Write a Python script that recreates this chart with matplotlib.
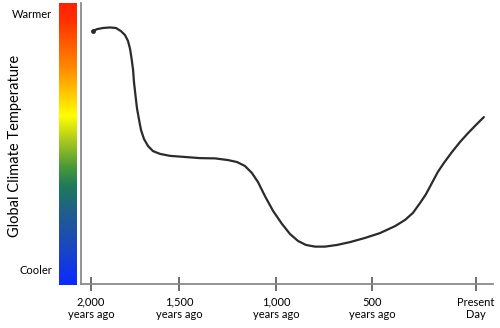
import numpy as np
import matplotlib
matplotlib.use("Agg")
import matplotlib.pyplot as plt
from matplotlib.colors import LinearSegmentedColormap

plt.rcParams['font.family'] = ['Lato', 'DejaVu Sans']

# curve: years ago vs relative temperature (0 = cooler, 1 = warmer)
years_ago = [1989, 1966, 1932, 1892, 1858, 1830, 1807, 1790, 1778, 1770, 1761, 1756, 1747,
             1739, 1727, 1716, 1699, 1676, 1648, 1608, 1551, 1469, 1392, 1314, 1247, 1201,
             1160, 1124, 1093, 1057, 1015, 969, 927, 885, 844, 797, 745, 682, 615, 536,
             462, 389, 341, 303, 269, 240, 212, 183, 154, 115, 77, 38, 0, -38]
temperature = [0.900, 0.907, 0.911, 0.913, 0.911, 0.900, 0.886, 0.865, 0.836, 0.804, 0.762,
               0.719, 0.669, 0.626, 0.584, 0.548, 0.516, 0.491, 0.473, 0.463, 0.456, 0.452,
               0.448, 0.447, 0.441, 0.434, 0.420, 0.395, 0.363, 0.313, 0.260, 0.214, 0.178,
               0.153, 0.139, 0.133, 0.133, 0.139, 0.149, 0.164, 0.181, 0.206, 0.228, 0.253,
               0.288, 0.320, 0.359, 0.399, 0.431, 0.470, 0.505, 0.537, 0.566, 0.594]

tick_years = [2000, 1500, 1000, 500, 0]
tick_labels = ["2,000\nyears ago", "1,500\nyears ago", "1,000\nyears ago", "500\nyears ago", "Present\nDay"]

bar_stops = [0.0, 0.12, 0.26, 0.35, 0.42, 0.51, 0.60, 0.77, 0.94, 1.0]
bar_colors = ["#0a2aff", "#1a44c8", "#1f5f8a", "#1f7a5a", "#4a9a3a", "#a8c820",
              "#ffff00", "#ff8a00", "#ff3000", "#ff2200"]

# the time axis in the original is hand spaced, not strictly linear
scale_years = [-500, 0, 500, 1000, 1500, 2000, 2500]
scale_pos = [580, 476, 372, 276, 179, 91, 3]
neg_pos = [-p for p in scale_pos]


def fwd(x):
    return np.interp(x, scale_years, neg_pos)


def inv(p):
    return np.interp(p, neg_pos, scale_years)


fig = plt.figure(figsize=(5, 3.28), dpi=100)

# main plot
ax = fig.add_axes([81 / 500, 44 / 328, 412 / 500, 281 / 328])
ax.set_xscale("function", functions=(fwd, inv))
ax.plot(years_ago, temperature, color="#2b2b2b", lw=1.6, solid_capstyle="round", solid_joinstyle="round")
ax.plot(years_ago[0], temperature[0], "o", ms=2.5, color="#2b2b2b")
ax.set_xlim(2057, -82)
ax.set_ylim(0, 1)
for side in ["top", "right"]:
    ax.spines[side].set_visible(False)
for side in ["left", "bottom"]:
    ax.spines[side].set_color("#8a8a8a")
    ax.spines[side].set_linewidth(1.3)
ax.set_yticks([])
ax.set_xticks(tick_years)
ax.set_xticklabels(tick_labels, fontsize=8, linespacing=1.15)
ax.tick_params(axis="x", direction="inout", length=10, width=1.2, color="#555555", pad=4)
ax.minorticks_off()

# color scale bar
cax = fig.add_axes([59 / 500, 43 / 328, 18 / 500, 282 / 328])
cmap = LinearSegmentedColormap.from_list("temp", list(zip(bar_stops, bar_colors)))
grad = np.linspace(0, 1, 256).reshape(-1, 1)
cax.imshow(grad, cmap=cmap, aspect="auto", origin="lower", extent=[0, 1, 0, 1])
cax.axis("off")

fig.text(52 / 500, 1 - 14 / 328, "Warmer", ha="right", va="center", fontsize=8)
fig.text(52 / 500, 1 - 271 / 328, "Cooler", ha="right", va="center", fontsize=8)
fig.text(15 / 500, 1 - 146 / 328, "Global Climate Temperature", rotation=90,
         ha="center", va="center", fontsize=10.5)

fig.savefig("out.png", dpi=100)
